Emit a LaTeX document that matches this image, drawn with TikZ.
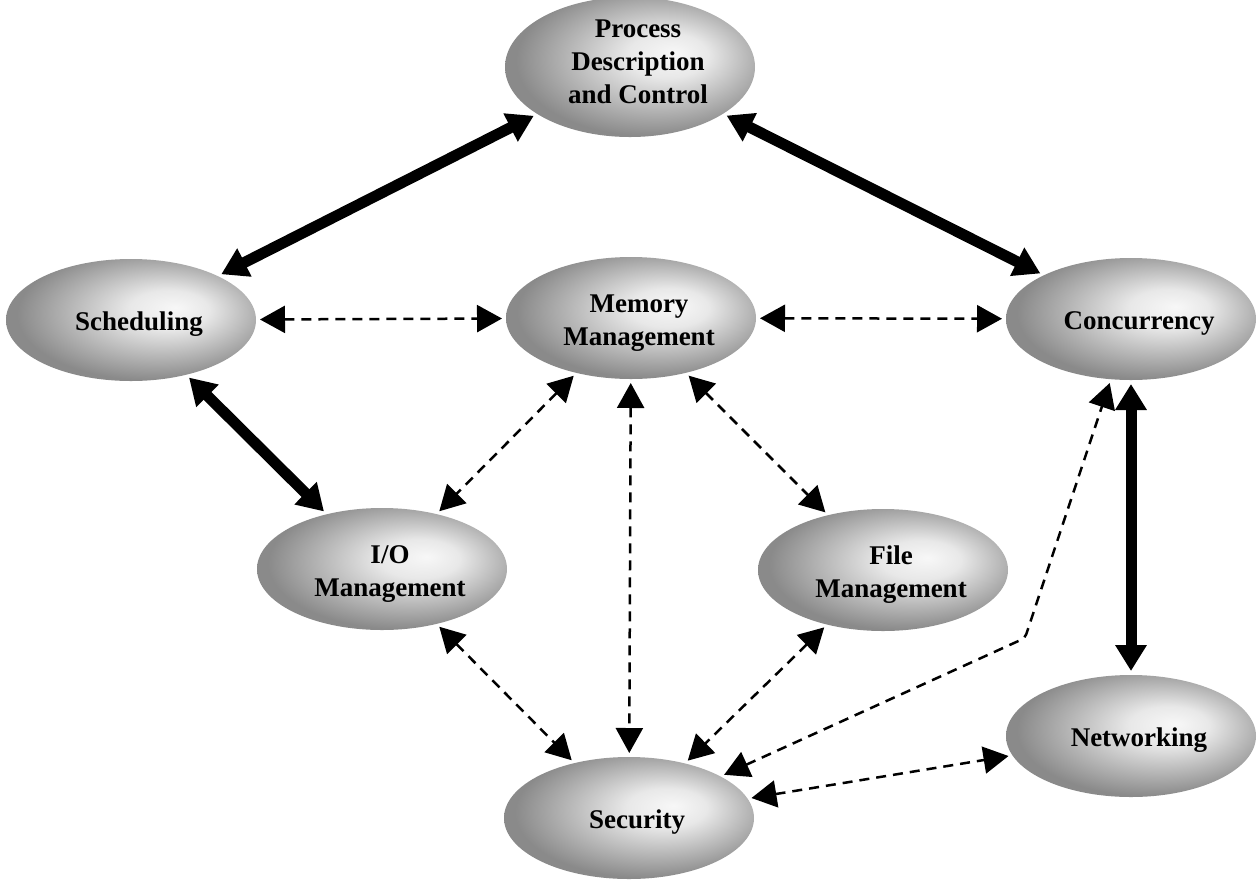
\documentclass[tikz,border=0pt]{standalone}
\usepackage{fontspec}
\setmainfont{Liberation Serif}
\usetikzlibrary{shapes.geometric,arrows.meta}
\pgfdeclareradialshading{ellgray}{\pgfpoint{9bp}{5bp}}{color(0bp)=(black!3); color(8bp)=(black!9); color(27bp)=(black!46); color(50bp)=(black!46)}
\newcommand\topictext[2][-4pt]{\raisebox{#1}[\height][\depth]{\begin{tabular}{@{\hspace{16pt}}c@{}}#2\end{tabular}}}
\begin{document}
\begin{tikzpicture}[x=1pt,y=-1pt,
  topic/.style={ellipse, minimum width=250pt, minimum height=122pt, inner sep=0pt, outer sep=0pt,
    shading=ellgray, font=\fontsize{27}{33}\selectfont\bfseries},
  strong/.style={line width=11pt, {Triangle[length=26pt,width=30pt]}-{Triangle[length=26pt,width=30pt]},
    shorten <=4pt, shorten >=4pt},
  weak/.style={line width=2.5pt, dash pattern=on 10pt off 7pt,
    {Triangle[length=25pt,width=27pt]}-{Triangle[length=25pt,width=27pt]},
    shorten <=4pt, shorten >=4pt}]
\useasboundingbox (0,0) rectangle (1259,887);

\node[topic] (proc)  at (630,67)  {\topictext[3pt]{Process\\Description\\and Control}};
\node[topic] (sched) at (131,320) {\topictext{Scheduling}};
\node[topic] (mem)   at (631,318) {\topictext{Memory\\Management}};
\node[topic] (conc)  at (1131,319) {\topictext{Concurrency}};
\node[topic] (io)    at (382,569) {\topictext{I/O\\Management}};
\node[topic] (file)  at (883,570) {\topictext{File\\Management}};
\node[topic] (net)   at (1131,736) {\topictext{Networking}};
\node[topic] (sec)   at (629,818) {\topictext{Security}};
\coordinate (bend) at (1025,638);

\draw[strong] (proc) -- (sched);
\draw[strong] (proc) -- (conc);
\draw[strong] (sched) -- (io);
\draw[strong] (conc) -- (net);

\draw[weak] (sched) -- (mem);
\draw[weak] (mem) -- (conc);
\draw[weak] (mem) -- (io);
\draw[weak] (mem) -- (file);
\draw[weak] (mem) -- (sec);
\draw[weak] (io) -- (sec);
\draw[weak] (file) -- (sec);
\draw[weak] (sec) -- (net);
\draw[weak, rounded corners=4pt] (sec) -- (bend) -- (conc);
\end{tikzpicture}
\end{document}
